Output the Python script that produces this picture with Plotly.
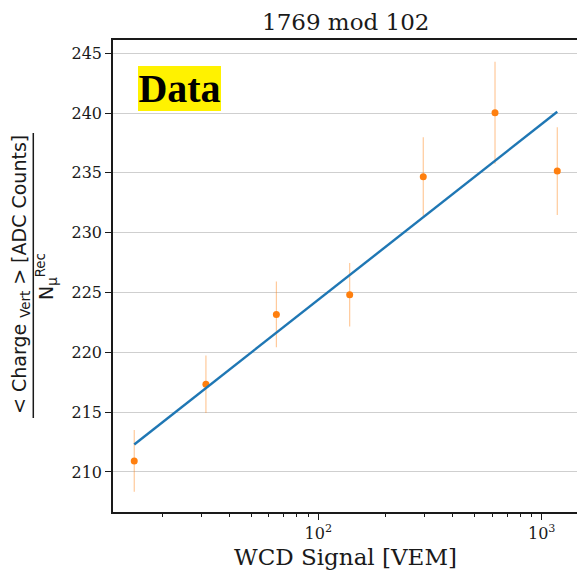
import numpy as np
import plotly.graph_objects as go

# ---- data ----
signal_vem = [15.0, 31.4, 64.9, 138.2, 295.0, 618.0, 1174.0]
charge_per_mu = [210.92, 217.33, 223.17, 224.81, 234.68, 240.03, 235.15]
charge_err = [2.58, 2.41, 2.75, 2.65, 3.30, 4.27, 3.67]

fit_x = [15.0, 1174.0]
fit_y = [212.29, 240.11]

y_ticks = [210, 215, 220, 225, 230, 235, 240, 245]
x_tickvals = [100, 1000]
x_ticktext = ["10<sup>2</sup>", "10<sup>3</sup>"]

title_text = "1769 mod 102"
xlabel_text = "WCD Signal [VEM]"
ylabel_num = "< Charge <sub>Vert</sub> > [ADC Counts]"
ylabel_den = "N<sub>μ</sub><sup>Rec</sup>"
badge_text = "<b>Data</b>"

# log-axis minor tick positions (2..9 times each decade)
minor_vals = [d * 10 ** e for e in (1, 2, 3) for d in range(2, 10)]

# ---- layout geometry (pixels) ----
W, H = 577, 572
ML, MR, MT, MB = 113, 0, 40, 60
PW, PH = W - ML - MR, H - MT - MB


def px2x(px):
    return (px - ML) / PW


def py2y(py):
    return (H - MB - py) / PH


ORANGE = "#ff7f0e"
BLUE = "#1f77b4"
SERIF = "DejaVu Serif"
SANS = "DejaVu Sans"
INK = "#1a1a1a"

fig = go.Figure()

fig.add_trace(go.Scatter(
    x=signal_vem, y=charge_per_mu, mode="markers",
    marker=dict(color=ORANGE, size=7),
    error_y=dict(type="data", array=charge_err, color="rgba(255,127,14,0.45)",
                 thickness=1.1, width=0),
    showlegend=False,
))

fig.add_trace(go.Scatter(
    x=fit_x, y=fit_y, mode="lines",
    line=dict(color=BLUE, width=2.4),
    showlegend=False,
))

fig.update_layout(
    width=W, height=H,
    margin=dict(l=ML, r=MR, t=MT, b=MB),
    paper_bgcolor="white", plot_bgcolor="white",
    font=dict(family=SERIF, color=INK),
    xaxis=dict(
        type="log", range=[1.081, 3.158],
        tickmode="array", tickvals=x_tickvals, ticktext=x_ticktext,
        ticks="outside", ticklen=6, tickwidth=1.2, tickcolor=INK,
        tickfont=dict(family=SERIF, size=16, color=INK),
        showline=True, linecolor=INK, linewidth=1.5, mirror=True,
        showgrid=False, zeroline=False,
        minor=dict(tickmode="array", tickvals=minor_vals,
                   ticks="outside", ticklen=3.5, tickwidth=1, tickcolor=INK,
                   showgrid=False),
    ),
    yaxis=dict(
        range=[206.65, 246.11],
        tickvals=y_ticks,
        ticks="outside", ticklen=6, tickwidth=1.2, tickcolor=INK,
        tickfont=dict(family=SERIF, size=16, color=INK),
        showline=True, linecolor=INK, linewidth=1.5,
        showgrid=True, gridcolor="#cfcfcf", gridwidth=1.3,
        zeroline=False,
    ),
)

annotations = [
    dict(text=title_text, xref="paper", yref="paper", x=px2x(345), y=py2y(21.5),
         xanchor="center", yanchor="middle", showarrow=False,
         font=dict(family=SERIF, size=23, color=INK)),
    dict(text=xlabel_text, xref="paper", yref="paper", x=px2x(345), y=py2y(556.5),
         xanchor="center", yanchor="middle", showarrow=False,
         font=dict(family=SERIF, size=23, color=INK)),
    dict(text=ylabel_num, xref="paper", yref="paper", x=px2x(20), y=py2y(275),
         xanchor="center", yanchor="middle", showarrow=False, textangle=-90,
         font=dict(family=SANS, size=19, color=INK)),
    dict(text=ylabel_den, xref="paper", yref="paper", x=px2x(46), y=py2y(277),
         xanchor="center", yanchor="middle", showarrow=False, textangle=-90,
         font=dict(family=SANS, size=19, color=INK)),
    dict(text=badge_text, xref="paper", yref="paper", x=px2x(138), y=py2y(66),
         xanchor="left", yanchor="top", showarrow=False,
         width=83, height=45, bgcolor="#fff200", borderpad=0, borderwidth=0,
         align="center", valign="middle",
         font=dict(family="Liberation Serif", size=40, color="black")),
]
fig.update_layout(annotations=annotations)

fig.add_shape(type="line", xref="paper", yref="paper",
              x0=px2x(33.3), x1=px2x(33.3), y0=py2y(133), y1=py2y(418),
              line=dict(color=INK, width=1.5))

fig.write_html("out.html")
